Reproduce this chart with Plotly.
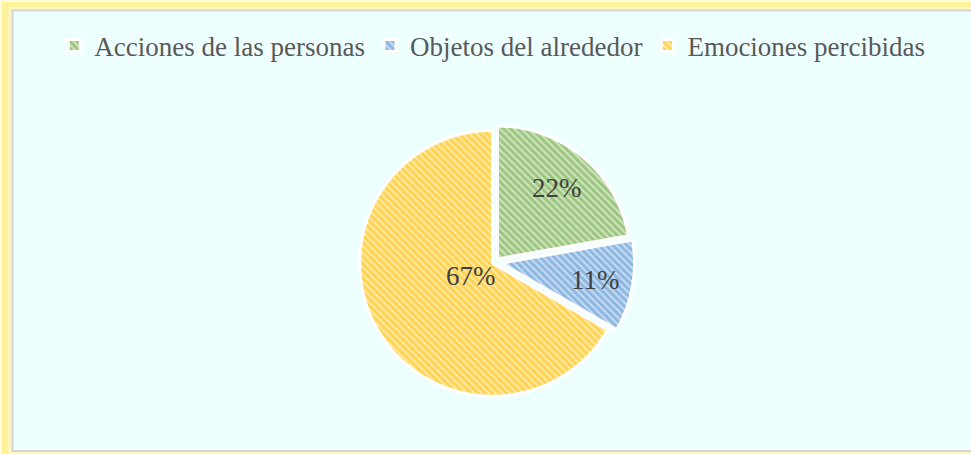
import numpy as np
import plotly.graph_objects as go

W, H = 971, 454

categories = ["Acciones de las personas", "Objetos del alrededor", "Emociones percibidas"]
counts = [2, 1, 6]

fg_colors = ["#6AA840", "#4F93D2", "#FFBC00"]
bg_colors = ["#CFE5C0", "#C9DCF1", "#FFEAA6"]
pulls = [0.03, 0.05, 0.02]
label_r = [0.70, 0.72, 0.19]  # where Excel put each percent label, as share of radius

# pie geometry in pixels
cx, cy, r = 495, 262, 133
half = r * (1 + max(pulls))

fig = go.Figure(go.Pie(
    labels=categories,
    values=counts,
    sort=False,
    direction="clockwise",
    rotation=0,
    pull=pulls,
    textinfo="none",
    hoverinfo="label+percent",
    marker=dict(
        colors=bg_colors,
        line=dict(color="white", width=3),
        pattern=dict(shape="\\", fgcolor=fg_colors, bgcolor=bg_colors,
                     size=5, solidity=0.6, fillmode="overlay"),
    ),
    domain=dict(x=[(cx - half) / W, (cx + half) / W],
                y=[1 - (cy + half) / H, 1 - (cy - half) / H]),
))

# percent labels placed along each slice's bisector
total = sum(counts)
start = 0.0
for v, fr, p in zip(counts, label_r, pulls):
    mid = np.deg2rad((start + v / 2) / total * 360)
    start += v
    dist = r * (fr + p)
    px_ = cx + dist * np.sin(mid)
    py_ = cy - dist * np.cos(mid)
    fig.add_annotation(x=px_ / W, y=1 - py_ / H, xref="paper", yref="paper",
                       text=f"{round(v / total * 100)}%", showarrow=False,
                       font=dict(family="Liberation Serif", size=27, color="#404040"))

# yellow glow and chart frame
fig.add_shape(type="rect", xref="paper", yref="paper", x0=2 / W, x1=1.1,
              y0=-0.1, y1=1 - 2 / H, fillcolor="#FFF39A", line_width=0, layer="below")
fig.add_shape(type="rect", xref="paper", yref="paper", x0=8 / W, x1=1.1,
              y0=-0.1, y1=1 - 7 / H, fillcolor="#FFF6BE", line_width=0, layer="below")
fig.add_shape(type="rect", xref="paper", yref="paper", x0=12.5 / W, x1=1.05,
              y0=1 - 451 / H, y1=1 - 10.5 / H, fillcolor="#EEFFFF",
              line=dict(color="#D4D4D4", width=2), layer="below")

fig.update_layout(
    width=W, height=H,
    margin=dict(l=0, r=0, t=0, b=0),
    paper_bgcolor="#FFFCE0",
    plot_bgcolor="#EEFFFF",
    font=dict(family="Liberation Serif", color="#595959"),
    legend=dict(orientation="h", x=0.507, xanchor="center", y=1 - 46 / H, yanchor="middle",
                font=dict(size=27, color="#595959"), bgcolor="rgba(0,0,0,0)",
                itemwidth=30, traceorder="normal"),
)

# drop the browser's default body margin so the figure sits at the window's corner
fig.write_html("out.html", config={"displayModeBar": False},
               post_script="document.body.style.margin='0';")
